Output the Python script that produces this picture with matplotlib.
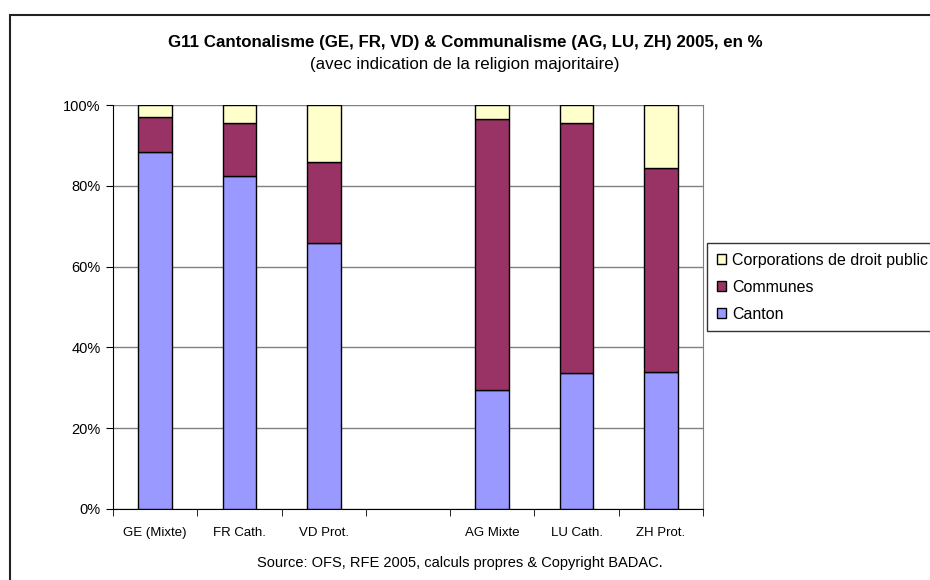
import numpy as np
import matplotlib.pyplot as plt
from matplotlib.patches import Rectangle

plt.rcParams['font.family'] = ['Liberation Sans', 'DejaVu Sans']

categories = ["GE (Mixte)", "FR Cath.", "VD Prot.", "", "AG Mixte", "LU Cath.", "ZH Prot."]
canton = [88.3, 82.4, 65.8, np.nan, 29.4, 33.7, 34.0]
communes = [8.7, 13.1, 20.1, np.nan, 67.1, 61.8, 50.4]
corporations = [3.0, 4.5, 14.1, np.nan, 3.5, 4.5, 15.6]

series = [
    ("Canton", canton, "#9999FF"),
    ("Communes", communes, "#993366"),
    ("Corporations de droit public", corporations, "#FFFFCC"),
]

fig = plt.figure(figsize=(9.3, 5.8), dpi=100)
ax = fig.add_axes([113 / 930, 1 - 509 / 580, 590 / 930, 404 / 580])

x = np.arange(len(categories))
mask = ~np.isnan(np.array(canton))
bottom = np.zeros(len(categories))
handles = []
for name, vals, color in series:
    v = np.array(vals)
    b = ax.bar(x[mask], v[mask], width=0.4, bottom=bottom[mask], color=color,
               edgecolor="black", linewidth=1.0, label=name, zorder=3)
    handles.append(b)
    bottom = bottom + np.nan_to_num(v)

ax.set_xlim(-0.5, len(categories) - 0.5)
ax.set_ylim(0, 100)
ax.set_yticks(np.arange(0, 101, 20))
ax.set_yticklabels([f"{t}%" for t in range(0, 101, 20)], fontsize=10.5)
ax.yaxis.grid(True, color="#808080", linewidth=1, zorder=0)

ax.set_xticks(x)
ax.set_xticklabels(categories, fontsize=9.5)
ax.set_xticks(np.arange(-0.5, len(categories)), minor=True)
ax.tick_params(axis="x", which="major", length=0, pad=13)
ax.tick_params(axis="x", which="minor", length=5, direction="out", color="black")
ax.tick_params(axis="y", length=5, direction="out", color="black", pad=4)

for s in ["left", "bottom"]:
    ax.spines[s].set_color("black")
ax.spines["right"].set_color("#808080")
ax.spines["top"].set_visible(False)

fig.text(0.5, 1 - 43 / 580, "G11 Cantonalisme (GE, FR, VD) & Communalisme (AG, LU, ZH) 2005, en %",
         ha="center", va="center", fontsize=12.2, fontweight="bold")
fig.text(0.5, 1 - 64 / 580, "(avec indication de la religion majoritaire)",
         ha="center", va="center", fontsize=12.2)
fig.text(460 / 930, 1 - 563 / 580, "Source: OFS, RFE 2005, calculs propres & Copyright BADAC.",
         ha="center", va="center", fontsize=10.5)

leg = fig.legend(handles[::-1], [s[0] for s in series][::-1], loc="upper left",
                 bbox_to_anchor=(707 / 930, 1 - 243 / 580), fontsize=11.5,
                 frameon=True, fancybox=False, handlelength=0.6, handleheight=0.6,
                 handletextpad=0.35, borderpad=0.6, labelspacing=0.75, borderaxespad=0)
leg.get_frame().set_edgecolor("black")
leg.get_frame().set_linewidth(1)

fig.patches.append(Rectangle((10 / 930, -0.1), 1.2, 1 - 15 / 580 + 0.1,
                             transform=fig.transFigure, fill=False,
                             edgecolor="#222222", linewidth=1.5, zorder=0))

fig.savefig("out.png", dpi=100)
